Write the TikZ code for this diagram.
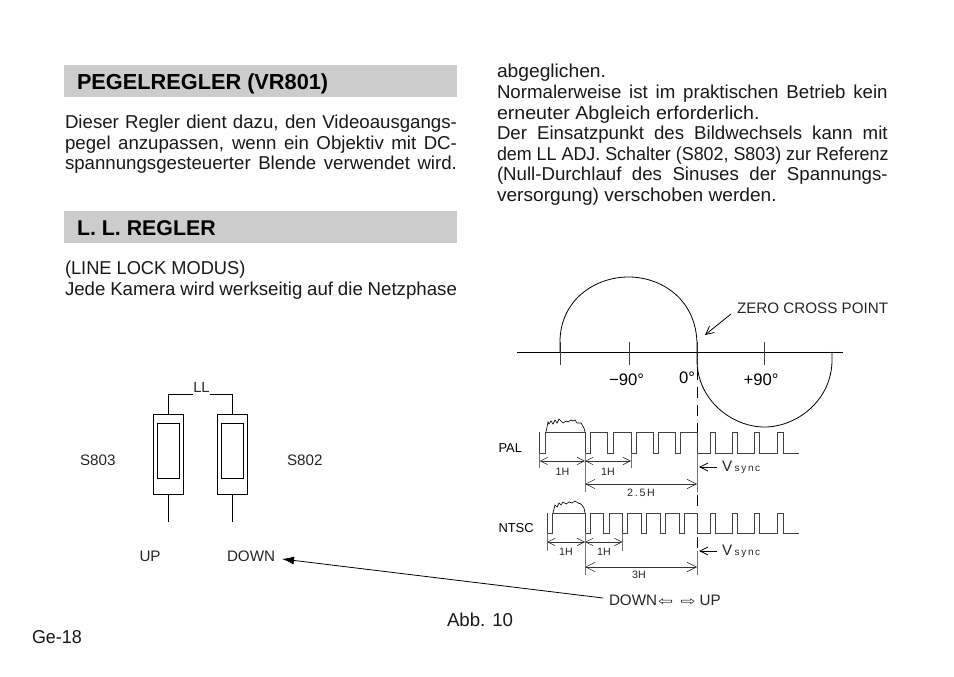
\documentclass[tikz,border=0pt]{standalone}
\usepackage{fontspec}
\usepackage{graphicx}
\setmainfont{Liberation Sans}
\usetikzlibrary{arrows.meta}
\tikzset{
 txt/.style={inner sep=0pt,outer sep=0pt,font=\fontsize{14pt}{16pt}\selectfont,text=black!90},
 lab/.style={inner sep=0pt,outer sep=0pt,font=\fontsize{11.4pt}{13pt}\selectfont,text=black!85},
 deg/.style={inner sep=0pt,outer sep=0pt,anchor=base,font=\fontsize{12.5pt}{14pt}\selectfont,text=black},
 small/.style={inner sep=0pt,outer sep=0pt,font=\fontsize{8pt}{9pt}\selectfont,text=black!85},
 head/.style={inner sep=0pt,outer sep=0pt,anchor=base west,font=\bfseries\fontsize{16.3pt}{18pt}\selectfont},
 bar/.style={fill=black!20,draw=none},
 ln/.style={line width=0.6pt,black},
 pulse/.style={line width=0.7pt,black!75},
 tickl/.style={line width=0.5pt,black!55},
 dimtip/.style={line width=0.5pt,black!80,{Straight Barb[length=5.5pt,width=5.5pt]}-{Straight Barb[length=5.5pt,width=5.5pt]}},
 dimtipL/.style={line width=0.5pt,black!80,{Straight Barb[length=7pt,width=7pt]}-{Straight Barb[length=7pt,width=7pt]}},
 open/.style={line width=0.6pt,black,-{Straight Barb[length=6pt,width=6pt]}},
}
\begin{document}
\begin{tikzpicture}[x=0.75pt,y=-0.75pt]
\useasboundingbox (0,0) rectangle (954,677);
\fill[white] (0,0) rectangle (954,677);
% headings
\fill[bar] (64,65) rectangle (457,97);
\fill[bar] (64,211) rectangle (457,243);
\node[head] (h1) at (77,90) {PEGELREGLER (VR801)};
\node[head,font=\bfseries\fontsize{16pt}{18pt}\selectfont] (h2) at (77,235.5) {L. L. REGLER};
% left column
\node[txt,anchor=base west] (l1) at (65,129) {\makebox[294pt][s]{Dieser Regler dient dazu, den Videoausgangs-}};
\node[txt,anchor=base west] (l2) at (65,149.5) {\makebox[294pt][s]{pegel anzupassen, wenn ein Objektiv mit DC-}};
\node[txt,anchor=base west] (l3) at (65,170) {\makebox[294pt][s]{spannungsgesteuerter Blende verwendet wird.}};
\node[txt,anchor=base west] (l4) at (65,275) {\scalebox{0.977}[1]{(LINE LOCK MODUS)}};
\node[txt,anchor=base west] (l5) at (65,295.5) {\makebox[294pt][s]{Jede Kamera wird werkseitig auf die Netzphase}};
% right column
\node[txt,anchor=base west] (r1) at (497,78) {\scalebox{1.03}[1]{abgeglichen.}};
\node[txt,anchor=base west] (r2) at (497,99) {\makebox[293pt][s]{Normalerweise ist im praktischen Betrieb kein}};
\node[txt,anchor=base west] (r3) at (497,120) {\scalebox{1.05}[1]{erneuter Abgleich erforderlich.}};
\node[txt,anchor=base west] (r4) at (497,140) {\makebox[293pt][s]{Der Einsatzpunkt des Bildwechsels kann mit}};
\node[txt,anchor=base west] (r5) at (497,161) {\scalebox{0.958}[1]{dem LL ADJ. Schalter (S802, S803) zur Referenz}};
\node[txt,anchor=base west] (r6) at (497,181) {\makebox[293pt][s]{(Null-Durchlauf des Sinuses der Spannungs-}};
\node[txt,anchor=base west] (r7) at (497,202) {\scalebox{1.025}[1]{versorgung) verschoben werden.}};
\node[txt,anchor=base west] (abb) at (447,626) {Abb. 10};
\node[txt,anchor=base west] (ge) at (32,643) {\scalebox{0.96}[1]{Ge-18}};
% switches
\node[draw,ln,minimum width=22.5pt,minimum height=59.5pt,inner sep=0pt] (s803) at (168.5,454.5) {};
\node[draw,ln,minimum width=16.5pt,minimum height=41.5pt,inner sep=0pt] (s803i) at (168.5,451) {};
\node[draw,ln,minimum width=22.5pt,minimum height=59.5pt,inner sep=0pt] (s802) at (232.5,454.5) {};
\node[draw,ln,minimum width=16.5pt,minimum height=41.5pt,inner sep=0pt] (s802i) at (232.5,451) {};
\node[lab,font=\fontsize{11pt}{12pt}\selectfont] (ll) at (201.5,387) {LL};
\coordinate (a1) at (168.5,394.5);
\coordinate (a2) at (232.5,394.5);
\coordinate (b1) at (168.5,522);
\coordinate (b2) at (232.5,522);
\draw[ln] (s803.north) -- (a1) -- (ll.west|-a1);
\draw[ln] (s802.north) -- (a2) -- (ll.east|-a2);
\draw[ln] (s803.south) -- (b1);
\draw[ln] (s802.south) -- (b2);
\node[lab,anchor=base west] (s3) at (80,465) {S803};
\node[lab,anchor=base west] (s2) at (287,465) {S802};
\node[lab,anchor=base west] (up) at (139.5,561) {UP};
\node[lab,anchor=base west] (down) at (227,561) {DOWN};
\node[lab,anchor=base west] (du) at (609,605) {DOWN\hspace{0.8pt}{\fontspec{DejaVu Sans}\fontsize{9pt}{10pt}\selectfont\scalebox{1.5}[1]{⇦}\hspace{5.5pt}\scalebox{1.5}[1]{⇨}}\hspace{3pt}UP};
\coordinate (duS) at (603,598);
\coordinate (downT) at (282,559);
\draw[line width=0.6pt,-{Latex[length=9pt,width=6pt]}] (duS) -- (downT);
% sine
\draw[ln] (517,352) -- (843,352);
\draw[pulse] (560,342) -- (560,365);
\draw[pulse] (629,342) -- (629,365);
\draw[pulse] (697,342) -- (697,365);
\draw[pulse] (764,342) -- (764,365);
\draw[ln] (560,352) -- (560,342) .. controls (560,300) and (595,277) .. (628.5,277) .. controls (662,277) and (697,300) .. (697,345) -- (697,352);
\draw[ln] (697,352) -- (697,360) .. controls (697,400) and (732,427) .. (764.5,427) .. controls (797,427) and (832,400) .. (832,360) -- (832,352);
\draw[line width=0.7pt,dash pattern=on 8.5pt off 5pt] (697,369) -- (697,508);
\draw[line width=0.7pt,dash pattern=on 8pt off 5pt] (697,537) -- (697,548);
\node[lab,anchor=base west] (zc) at (737,314) {ZERO CROSS POINT};
\coordinate (zcA) at (731,314);
\coordinate (zcB) at (705,335);
\draw[open] (zcA) -- (zcB);
\node[deg] (m90) at (626.5,386) {−90°};
\node[deg] (z0) at (687,384) {0°};
\node[deg] (p90) at (761,386) {+90°};
% PAL
\node[lab,anchor=base west,font=\fontsize{9.7pt}{11pt}\selectfont,text=black] (pal) at (498.5,452) {PAL};
\draw[pulse] (539.5,432) |- (545,453) |- (585,432) |- (590,453) |- (607,432) |- (613,453) |- (631,432) |- (636,453) |- (653,432) |- (658,453) |- (675,432) |- (680,453) |- (697.5,432) |- (710,453) |- (715,432) |- (732.5,453) |- (737.5,432) |- (754.5,453) |- (759.5,432) |- (777.5,453) |- (783.5,432) |- (798.5,453);
\draw[black,line width=0.5pt] (546,432) -- (548,422) -- (549,424) -- (551,421) -- (553,424) -- (555,420) -- (557,423) -- (559,419) -- (561,421) -- (563,423) -- (566,421) -- (568,422) -- (571,420) -- (573,421) -- (575,420) -- (577,423) -- (581,423) -- (584,428) -- (585,432);
\foreach \x in {539.5,585,631} \draw[tickl] (\x,453) -- (\x,468);
\draw[tickl] (585,453) -- (585,492);
\draw[tickl] (697,453) -- (697,492);
\draw[dimtip] (539.5,461) -- (585,461);
\draw[dimtip] (585,461) -- (631,461);
\draw[dimtipL] (585,484) -- (697,484);
\node[small,anchor=base] (h1a) at (562.5,475) {1H};
\node[small,anchor=base] (h1b) at (608,475) {1H};
\node[small,anchor=base] (h25) at (641,496) {2\,.\,5\,H};
\draw[open] (717,467) -- (699,467);
\node[lab,anchor=base west] (vs1) at (722,471) {V\,\fontsize{7.5pt}{8pt}\selectfont s\,y\,n\,c};
% NTSC
\node[lab,anchor=base west,font=\fontsize{9.7pt}{11pt}\selectfont,text=black] (ntsc) at (498.5,532.5) {NTSC};
\draw[pulse] (547,513) |- (552,533) |- (585,513) |- (590,533) |- (603,513) |- (609,533) |- (622.5,513) |- (627,533) |- (641,513) |- (646,533) |- (660,513) |- (665,533) |- (679,513) |- (684,533) |- (697.5,513) |- (710,533) |- (715,513) |- (732.5,533) |- (737.5,513) |- (754.5,533) |- (759.5,513) |- (777.5,533) |- (783.5,513) |- (798.5,533);
\draw[black,line width=0.5pt] (553,513) -- (555,505) -- (557,507) -- (559,503) -- (561,505) -- (563,502) -- (566,504) -- (569,502) -- (572,503) -- (575,501) -- (578,503) -- (581,504) -- (584,508) -- (585,513);
\foreach \x in {547,585,622.5} \draw[tickl] (\x,533) -- (\x,551);
\draw[tickl] (585,533) -- (585,575);
\draw[tickl] (697,551) -- (697,575);
\draw[dimtip] (547,542) -- (585,542);
\draw[dimtip] (585,542) -- (622.5,542);
\draw[dimtipL] (585,567) -- (697,567);
\node[small,anchor=base] (n1a) at (566,555.5) {1H};
\node[small,anchor=base] (n1b) at (604,555.5) {1H};
\node[small,anchor=base] (n3) at (639,578) {3H};
\draw[open] (717,551) -- (699,551);
\node[lab,anchor=base west] (vs2) at (722,555) {V\,\fontsize{7.5pt}{8pt}\selectfont s\,y\,n\,c};
\end{tikzpicture}
\end{document}
